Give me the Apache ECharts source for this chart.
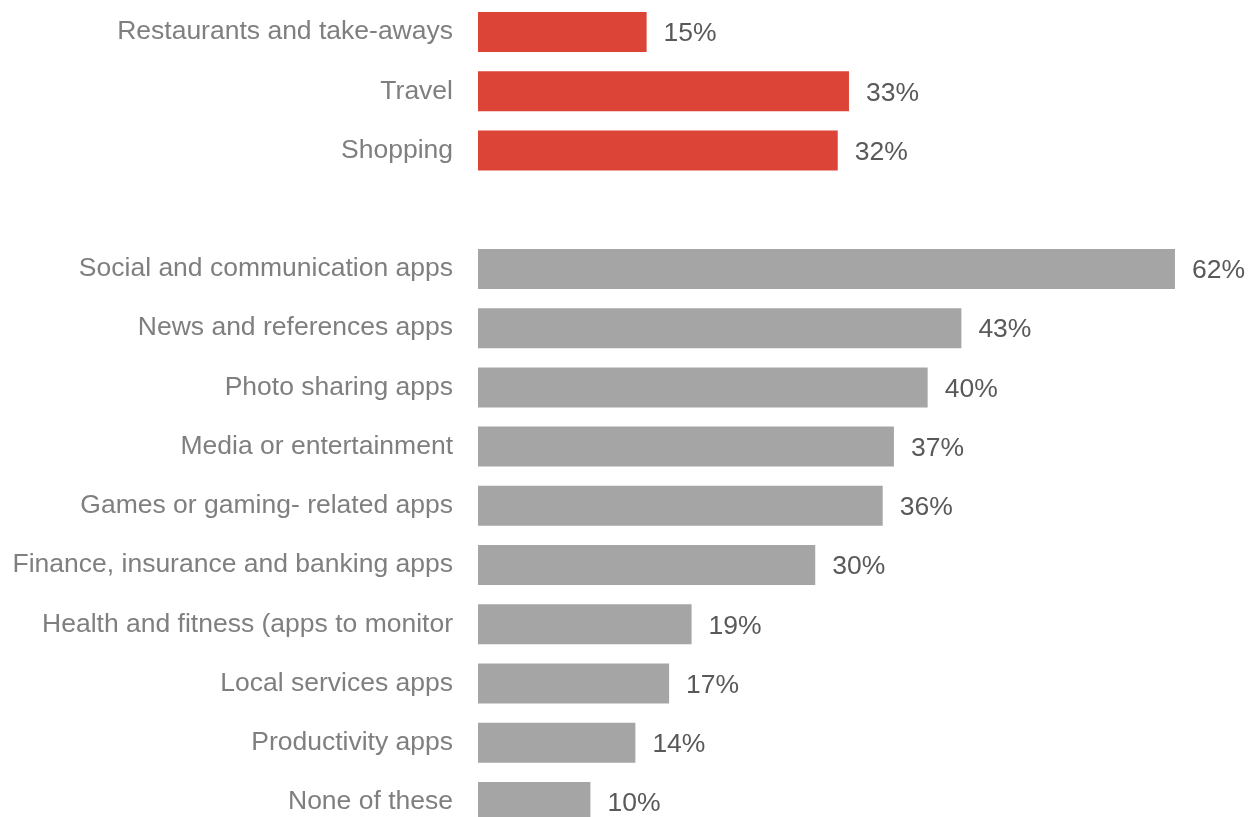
<!DOCTYPE html>
<html>
<head>
<meta charset="utf-8">
<script src="https://cdn.jsdelivr.net/npm/echarts@6/dist/echarts.min.js"></script>
<style>html,body{margin:0;padding:0;background:#fff;overflow:hidden;}#c{width:1300px;height:840px;}</style>
</head>
<body>
<div id="c"></div>
<script>
const categories = [
  "Restaurants and take-aways", "Travel", "Shopping", "",
  "Social and communication apps", "News and references apps", "Photo sharing apps",
  "Media or entertainment", "Games or gaming- related apps", "Finance, insurance and banking apps",
  "Health and fitness (apps to monitor", "Local services apps", "Productivity apps", "None of these"
];
const values = [15, 33, 32, null, 62, 43, 40, 37, 36, 30, 19, 17, 14, 10];
const groups = ["red", "red", "red", null, "gray", "gray", "gray", "gray", "gray", "gray", "gray", "gray", "gray", "gray"];
const groupColors = { red: "#DC4437", gray: "#A5A5A5" };

const chart = echarts.init(document.getElementById('c'));
chart.setOption({
  animation: false,
  grid: { left: 478, top: 2.4, width: 786.9, height: 829.2, containLabel: false },
  xAxis: { type: 'value', min: 0, max: 70, show: false },
  yAxis: {
    type: 'category', data: categories, inverse: true,
    axisLine: { show: false }, axisTick: { show: false },
    axisLabel: { color: '#7F7F7F', fontSize: 26.5, fontFamily: 'Liberation Sans, Arial, sans-serif', margin: 25 }
  },
  series: [{
    type: 'bar', barWidth: 40,
    data: values.map((v, i) => v === null ? '-' : { value: v, itemStyle: { color: groupColors[groups[i]] } }),
    label: {
      show: true, position: 'right', distance: 17, offset: [0, 2], formatter: '{c}%',
      color: '#595959', fontSize: 26.5, fontFamily: 'Liberation Sans, Arial, sans-serif'
    }
  }]
});
</script>
</body>
</html>
